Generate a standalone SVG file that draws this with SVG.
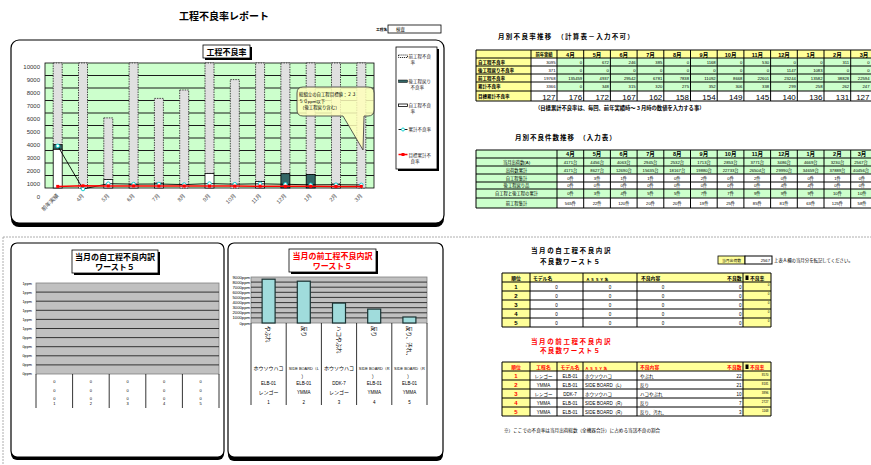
<svg xmlns="http://www.w3.org/2000/svg" width="871" height="465" viewBox="0 0 871 465">
<style>
text{font-family:"Liberation Sans","Noto Sans CJK JP",sans-serif;fill:#000}
.b{font-weight:bold}
.grn{fill:#ccffcc}
.yel{fill:#ffff99}
.gl{stroke:#000;stroke-width:1;fill:none}
.e{text-anchor:end}
.m{text-anchor:middle}
.v{font-size:4.2px}
.gbar{fill:#e0e0e0;stroke:#222;stroke-width:0.8;stroke-dasharray:1.5 1}
.wbar{fill:#fff;stroke:#000;stroke-width:0.8}
.tbar{fill:#336666;stroke:#000;stroke-width:0.8}
.cbar{fill:#a0dcdc;stroke:#1a3333;stroke-width:1.2}
.ax{font-size:6px;fill:#333}
.xl{font-size:5.5px;fill:#444;text-anchor:end}
.lg{font-size:4.5px;fill:#222}
.r{fill:#f00}
.big{font-size:8px}
</style>
<rect width="871" height="465" fill="#fff"/>

<g id="header">
<text x="224" y="20" class="b m" font-size="10">工程不良率レポート</text>
<text x="376" y="30.5" class="b" font-size="3.8">工程名</text>
<rect x="388" y="25" width="53" height="8" fill="#fff" stroke="#000" stroke-width="0.8"/>
<text x="396" y="31" font-size="4.5">検査</text>
</g>

<g id="separators" fill="none" stroke="#999" stroke-width="0.8" stroke-dasharray="2 1">
<path d="M3 237H871M3 237V465"/>
</g>

<g id="chart-main">
<rect x="11" y="44" width="433" height="183" rx="8" fill="#000"/>
<rect x="11" y="40" width="433" height="183" rx="8" fill="#fff" stroke="#000" stroke-width="1.2"/>
<rect x="205" y="47" width="47" height="13" fill="#000"/>
<rect x="203" y="45" width="47" height="13" fill="#fff" stroke="#000" stroke-width="0.8"/>
<text x="226.5" y="55.3" class="b m" font-size="8">工程不良率</text>
<rect x="45" y="63" width="329" height="125" class="grn" stroke="#000" stroke-width="0.8"/>
<path d="M45 75.5H374M45 88H374M45 100.5H374M45 113H374M45 125.5H374M45 138H374M45 150.5H374M45 163H374M45 175.5H374" stroke="#1a1a1a" stroke-width="1"/>
<g class="ax e">
<text x="40" y="69" class="ax e">10000</text>
<text x="40" y="82" class="ax e">9000</text>
<text x="40" y="95" class="ax e">8000</text>
<text x="40" y="108" class="ax e">7000</text>
<text x="40" y="121" class="ax e">6000</text>
<text x="40" y="134" class="ax e">5000</text>
<text x="40" y="147" class="ax e">4000</text>
<text x="40" y="160" class="ax e">3000</text>
<text x="40" y="173" class="ax e">2000</text>
<text x="40" y="186" class="ax e">1000</text>
<text x="40" y="199" class="ax e">0</text>
</g>
<g id="bars">
<rect x="53.2" y="63" width="9" height="81.7" class="gbar"/><rect x="53.2" y="144.7" width="9" height="4.6" class="tbar"/><rect x="53.2" y="149.3" width="9" height="38.7" class="wbar"/>
<rect x="78.5" y="63" width="9" height="125" class="gbar"/>
<rect x="103.8" y="117.9" width="9" height="61.7" class="gbar"/><rect x="103.8" y="179.6" width="9" height="8.4" class="wbar"/>
<rect x="129.1" y="63" width="9" height="121.9" class="gbar"/><rect x="129.1" y="184.9" width="9" height="3.1" class="wbar"/>
<rect x="154.4" y="98.4" width="9" height="84.8" class="gbar"/><rect x="154.4" y="183.2" width="9" height="4.8" class="wbar"/>
<rect x="179.7" y="90" width="9" height="98" class="gbar"/>
<rect x="205" y="63" width="9" height="110.4" class="gbar"/><rect x="205" y="173.4" width="9" height="14.6" class="wbar"/>
<rect x="230.3" y="79.6" width="9" height="108.4" class="gbar"/>
<rect x="255.6" y="63" width="9" height="118.4" class="gbar"/><rect x="255.6" y="181.4" width="9" height="6.6" class="wbar"/>
<rect x="280.9" y="63" width="9" height="110.7" class="gbar"/><rect x="280.9" y="173.7" width="9" height="14.3" class="tbar"/>
<rect x="306.2" y="63" width="9" height="111.5" class="gbar"/><rect x="306.2" y="174.5" width="9" height="13.5" class="tbar"/>
<rect x="331.5" y="63" width="9" height="121.1" class="gbar"/><rect x="331.5" y="184.1" width="9" height="3.9" class="wbar"/>
<rect x="356.8" y="63" width="9" height="125" class="gbar"/>
</g>
<g id="line-cum">
<polyline points="57.7,145.9 83,189 108.3,183.7 133.6,184.1 158.9,184 184.2,184.6 209.5,183.6 234.8,184.2 260.1,183.8 285.4,184.3 310.7,184.8 336,184.7 361.3,184.9" fill="none" stroke="#000" stroke-width="0.9"/>
<g fill="#fff" stroke="#00cccc" stroke-width="0.9">
<circle cx="57.7" cy="145.9" r="1.8"/><circle cx="83" cy="189" r="1.8"/><circle cx="108.3" cy="183.7" r="1.8"/><circle cx="133.6" cy="184.1" r="1.8"/><circle cx="158.9" cy="184" r="1.8"/><circle cx="184.2" cy="184.6" r="1.8"/><circle cx="209.5" cy="183.6" r="1.8"/><circle cx="234.8" cy="184.2" r="1.8"/><circle cx="260.1" cy="183.8" r="1.8"/><circle cx="285.4" cy="184.3" r="1.8"/><circle cx="310.7" cy="184.8" r="1.8"/><circle cx="336" cy="184.7" r="1.8"/><circle cx="361.3" cy="184.9" r="1.8"/>
</g>
</g>
<g id="line-target">
<polyline points="57.7,186.4 83,185.8 108.3,185.9 133.6,185.9 158.9,186 184.2,186 209.5,186.1 234.8,186.1 260.1,186.2 285.4,186.3 310.7,186.3 336,186.4 361.3,186.4" fill="none" stroke="#f00" stroke-width="1.5"/>
<g fill="#f00">
<rect x="56.2" y="184.9" width="3" height="3"/><rect x="81.5" y="184.3" width="3" height="3"/><rect x="106.8" y="184.4" width="3" height="3"/><rect x="132.1" y="184.4" width="3" height="3"/><rect x="157.4" y="184.5" width="3" height="3"/><rect x="182.7" y="184.5" width="3" height="3"/><rect x="208" y="184.6" width="3" height="3"/><rect x="233.3" y="184.6" width="3" height="3"/><rect x="258.6" y="184.7" width="3" height="3"/><rect x="283.9" y="184.8" width="3" height="3"/><rect x="309.2" y="184.8" width="3" height="3"/><rect x="334.5" y="184.9" width="3" height="3"/><rect x="359.8" y="184.9" width="3" height="3"/>
</g>
</g>
<g id="x-labels">
<text transform="translate(59.2,196) rotate(-45)" class="xl">前年実績</text>
<text transform="translate(84.5,196) rotate(-45)" class="xl">4月</text>
<text transform="translate(109.8,196) rotate(-45)" class="xl">5月</text>
<text transform="translate(135.1,196) rotate(-45)" class="xl">6月</text>
<text transform="translate(160.4,196) rotate(-45)" class="xl">7月</text>
<text transform="translate(185.7,196) rotate(-45)" class="xl">8月</text>
<text transform="translate(211,196) rotate(-45)" class="xl">9月</text>
<text transform="translate(236.3,196) rotate(-45)" class="xl">10月</text>
<text transform="translate(261.6,196) rotate(-45)" class="xl">11月</text>
<text transform="translate(286.9,196) rotate(-45)" class="xl">12月</text>
<text transform="translate(312.2,196) rotate(-45)" class="xl">1月</text>
<text transform="translate(337.5,196) rotate(-45)" class="xl">2月</text>
<text transform="translate(362.8,196) rotate(-45)" class="xl">3月</text>
</g>
<g id="callout">
<path d="M303 87H368Q374 87 374 93V110Q374 116 368 116H364L363 150L343 116H303Q297 116 297 110V93Q297 87 303 87Z" fill="#ffffbb" fill-opacity="0.85" stroke="#333" stroke-width="0.8"/>
<text x="299" y="96" font-size="4.4" fill="#333">総組立の自工程目標値：２３</text>
<text x="299" y="102.5" font-size="4.4" fill="#333">５０ppm以下</text>
<text x="300" y="109" font-size="4.4" fill="#333">（後工程戻り含む）</text>
</g>
<g id="legend">
<rect x="398" y="49" width="41" height="122" fill="#000"/>
<rect x="396" y="47" width="41" height="122" fill="#fff" stroke="#000" stroke-width="0.8"/>
<rect x="398.5" y="55" width="9" height="2.5" fill="#fff" stroke="#000" stroke-width="0.8" stroke-dasharray="1.2 0.8"/>
<text x="408.5" y="58" class="lg">前工程不良</text><text x="410.5" y="63.5" class="lg">率</text>
<rect x="398.5" y="80" width="9" height="2.5" fill="#336666" stroke="#000" stroke-width="0.5"/>
<text x="408.5" y="83" class="lg">後工程戻り</text><text x="410.5" y="89" class="lg">不良率</text>
<rect x="398.5" y="104" width="9" height="2.5" fill="#fff" stroke="#000" stroke-width="0.8"/>
<text x="408.5" y="107" class="lg">自工程不良</text><text x="410.5" y="113" class="lg">率</text>
<line x1="398.5" y1="129.5" x2="407.5" y2="129.5" stroke="#000" stroke-width="0.9"/>
<circle cx="403" cy="129.5" r="1.5" fill="#fff" stroke="#00cccc" stroke-width="0.9"/>
<text x="408.5" y="131" class="lg">累計不良率</text>
<line x1="398.5" y1="154.5" x2="407.5" y2="154.5" stroke="#f00" stroke-width="1.5"/>
<rect x="401.5" y="153" width="3" height="3" fill="#f00"/>
<text x="408.5" y="156.5" class="lg">目標累計不</text><text x="410.5" y="162.5" class="lg">良率</text>
</g>
</g>

<g id="table-rate">
<text x="498" y="39" class="b" font-size="6.5" letter-spacing="1.3">月別不良率推移　（計算表－入力不可）</text>
<rect x="476" y="50" width="55" height="51" class="yel"/>
<rect x="531" y="50" width="346" height="8" class="yel"/>
<rect x="531" y="58" width="26" height="43" fill="#fff"/>
<rect x="557" y="58" width="320" height="33" class="grn"/>
<rect x="557" y="91" width="320" height="10" fill="#fff"/>
<path class="gl" d="M476 50H877M476 58H877M476 66H877M476 74H877M476 82H877M476 91H877M476 101H877M476 50V101M531 50V101M557 50V101M583.7 50V101M610.4 50V101M637.1 50V101M663.8 50V101M690.5 50V101M717.2 50V101M743.9 50V101M770.6 50V101M797.3 50V101M824 50V101M850.7 50V101"/>
<g class="b" font-size="5.5">
<text x="544" y="56" class="b m" font-size="4.3">前年実績</text>
<text x="570.4" y="56.5" class="m">4月</text><text x="597.1" y="56.5" class="m">5月</text><text x="623.8" y="56.5" class="m">6月</text><text x="650.5" y="56.5" class="m">7月</text><text x="677.2" y="56.5" class="m">8月</text><text x="703.9" y="56.5" class="m">9月</text><text x="730.6" y="56.5" class="m">10月</text><text x="757.3" y="56.5" class="m">11月</text><text x="784" y="56.5" class="m">12月</text><text x="810.7" y="56.5" class="m">1月</text><text x="837.4" y="56.5" class="m">2月</text><text x="864.1" y="56.5" class="m">3月</text>
</g>
<g class="b" font-size="4.5">
<text x="478" y="63.8">自工程不良率</text>
<text x="478" y="71.8">後工程戻り不良率</text>
<text x="478" y="79.8">前工程不良率</text>
<text x="478" y="88.3">累計不良率</text>
<text x="478" y="98.3">目標累計不良率</text>
</g>
<g class="v e">
<text x="555.5" y="63.8" class="v e">3095</text><text x="555.5" y="71.8" class="v e">371</text><text x="555.5" y="79.8" class="v e">19768</text><text x="555.5" y="88.3" class="v e">3366</text>
<text x="582.2" y="63.8" class="v e">0</text><text x="608.9" y="63.8" class="v e">672</text><text x="635.6" y="63.8" class="v e">246</text><text x="662.3" y="63.8" class="v e">385</text><text x="689" y="63.8" class="v e">0</text><text x="715.7" y="63.8" class="v e">1168</text><text x="742.4" y="63.8" class="v e">0</text><text x="769.1" y="63.8" class="v e">530</text><text x="795.8" y="63.8" class="v e">0</text><text x="822.5" y="63.8" class="v e">0</text><text x="849.2" y="63.8" class="v e">311</text><text x="869.5" y="63.8" class="v e">0</text>
<text x="582.2" y="71.8" class="v e">0</text><text x="608.9" y="71.8" class="v e">0</text><text x="635.6" y="71.8" class="v e">0</text><text x="662.3" y="71.8" class="v e">0</text><text x="689" y="71.8" class="v e">0</text><text x="715.7" y="71.8" class="v e">0</text><text x="742.4" y="71.8" class="v e">0</text><text x="769.1" y="71.8" class="v e">0</text><text x="795.8" y="71.8" class="v e">1147</text><text x="822.5" y="71.8" class="v e">1083</text><text x="849.2" y="71.8" class="v e">0</text><text x="869.5" y="71.8" class="v e">0</text>
<text x="582.2" y="79.8" class="v e">135459</text><text x="608.9" y="79.8" class="v e">4937</text><text x="635.6" y="79.8" class="v e">29542</text><text x="662.3" y="79.8" class="v e">6781</text><text x="689" y="79.8" class="v e">7838</text><text x="715.7" y="79.8" class="v e">11092</text><text x="742.4" y="79.8" class="v e">8668</text><text x="769.1" y="79.8" class="v e">22601</text><text x="795.8" y="79.8" class="v e">23244</text><text x="822.5" y="79.8" class="v e">13582</text><text x="849.2" y="79.8" class="v e">38828</text><text x="869.5" y="79.8" class="v e">22594</text>
<text x="582.2" y="88.3" class="v e">0</text><text x="608.9" y="88.3" class="v e">348</text><text x="635.6" y="88.3" class="v e">315</text><text x="662.3" y="88.3" class="v e">320</text><text x="689" y="88.3" class="v e">275</text><text x="715.7" y="88.3" class="v e">352</text><text x="742.4" y="88.3" class="v e">306</text><text x="769.1" y="88.3" class="v e">338</text><text x="795.8" y="88.3" class="v e">299</text><text x="822.5" y="88.3" class="v e">258</text><text x="849.2" y="88.3" class="v e">262</text><text x="869.5" y="88.3" class="v e">247</text>
</g>
<g class="big e">
<text x="555.5" y="99.5" class="big e">127</text>
<text x="582.2" y="99.5" class="big e">176</text><text x="608.9" y="99.5" class="big e">172</text><text x="635.6" y="99.5" class="big e">167</text><text x="662.3" y="99.5" class="big e">162</text><text x="689" y="99.5" class="big e">158</text><text x="715.7" y="99.5" class="big e">154</text><text x="742.4" y="99.5" class="big e">149</text><text x="769.1" y="99.5" class="big e">145</text><text x="795.8" y="99.5" class="big e">140</text><text x="822.5" y="99.5" class="big e">136</text><text x="849.2" y="99.5" class="big e">131</text><text x="869.5" y="99.5" class="big e">127</text>
</g>
<text x="535" y="110" class="b" font-size="5.3">（目標累計不良率は、毎回、前年実績時～３月時の数値を入力する事）</text>
</g>

<g id="table-count">
<text x="515" y="140" class="b" font-size="6.5" letter-spacing="1">月別不良件数推移　（入力表）</text>
<rect x="476" y="150" width="401" height="24" class="grn"/>
<rect x="557" y="174" width="320" height="15" fill="#fff"/>
<rect x="476" y="174" width="81" height="34" class="grn"/>
<rect x="557" y="189" width="320" height="9" class="grn"/>
<rect x="557" y="198" width="320" height="10" fill="#fff"/>
<path class="gl" d="M476 150H877M476 158H877M476 166H877M476 174H877M476 182H877M476 189H877M476 198H877M476 208H877M476 150V208M557 150V208M583.7 150V208M610.4 150V208M637.1 150V208M663.8 150V208M690.5 150V208M717.2 150V208M743.9 150V208M770.6 150V208M797.3 150V208M824 150V208M850.7 150V208"/>
<g class="b" font-size="5.5">
<text x="570.4" y="156.3" class="m">4月</text><text x="597.1" y="156.3" class="m">5月</text><text x="623.8" y="156.3" class="m">6月</text><text x="650.5" y="156.3" class="m">7月</text><text x="677.2" y="156.3" class="m">8月</text><text x="703.9" y="156.3" class="m">9月</text><text x="730.6" y="156.3" class="m">10月</text><text x="757.3" y="156.3" class="m">11月</text><text x="784" y="156.3" class="m">12月</text><text x="810.7" y="156.3" class="m">1月</text><text x="837.4" y="156.3" class="m">2月</text><text x="862" y="156.3" class="m">3月</text>
</g>
<g font-size="4.3">
<text x="516.5" y="163.7" class="m">当月出荷数(A)</text>
<text x="516.5" y="171.7" class="m">出荷数累計</text>
<text x="516.5" y="179.7" class="m">自工程集計</text>
<text x="516.5" y="187.2" class="m">後工程戻り品</text>
<text x="516.5" y="195.2" class="m">自工程と後工程の累計</text>
<text x="516.5" y="204.5" class="m">前工程集計</text>
</g>
<g font-size="4.2">
<text x="570.4" y="163.7" class="m">4171台</text><text x="597.1" y="163.7" class="m">4456台</text><text x="623.8" y="163.7" class="m">4063台</text><text x="650.5" y="163.7" class="m">2945台</text><text x="677.2" y="163.7" class="m">2532台</text><text x="703.9" y="163.7" class="m">1713台</text><text x="730.6" y="163.7" class="m">2853台</text><text x="757.3" y="163.7" class="m">3771台</text><text x="784" y="163.7" class="m">3486台</text><text x="810.7" y="163.7" class="m">4669台</text><text x="837.4" y="163.7" class="m">3230台</text><text x="861" y="163.7" class="m">2567台</text>
<text x="570.4" y="171.7" class="m">4171台</text><text x="597.1" y="171.7" class="m">8627台</text><text x="623.8" y="171.7" class="m">12690台</text><text x="650.5" y="171.7" class="m">15635台</text><text x="677.2" y="171.7" class="m">18167台</text><text x="703.9" y="171.7" class="m">19880台</text><text x="730.6" y="171.7" class="m">22733台</text><text x="757.3" y="171.7" class="m">26504台</text><text x="784" y="171.7" class="m">29990台</text><text x="810.7" y="171.7" class="m">34659台</text><text x="837.4" y="171.7" class="m">37889台</text><text x="861" y="171.7" class="m">40456台</text>
<text x="570.4" y="179.7" class="m">0件</text><text x="597.1" y="179.7" class="m">3件</text><text x="623.8" y="179.7" class="m">1件</text><text x="650.5" y="179.7" class="m">1件</text><text x="677.2" y="179.7" class="m">0件</text><text x="703.9" y="179.7" class="m">2件</text><text x="730.6" y="179.7" class="m">0件</text><text x="757.3" y="179.7" class="m">2件</text><text x="784" y="179.7" class="m">0件</text><text x="810.7" y="179.7" class="m">0件</text><text x="837.4" y="179.7" class="m">1件</text><text x="862" y="179.7" class="m">0件</text>
<text x="570.4" y="187.2" class="m">0件</text><text x="597.1" y="187.2" class="m">0件</text><text x="623.8" y="187.2" class="m">0件</text><text x="650.5" y="187.2" class="m">0件</text><text x="677.2" y="187.2" class="m">0件</text><text x="703.9" y="187.2" class="m">0件</text><text x="730.6" y="187.2" class="m">0件</text><text x="757.3" y="187.2" class="m">0件</text><text x="784" y="187.2" class="m">4件</text><text x="810.7" y="187.2" class="m">4件</text><text x="837.4" y="187.2" class="m">0件</text><text x="862" y="187.2" class="m">0件</text>
<text x="570.4" y="195.2" class="m">0件</text><text x="597.1" y="195.2" class="m">3件</text><text x="623.8" y="195.2" class="m">4件</text><text x="650.5" y="195.2" class="m">5件</text><text x="677.2" y="195.2" class="m">5件</text><text x="703.9" y="195.2" class="m">7件</text><text x="730.6" y="195.2" class="m">7件</text><text x="757.3" y="195.2" class="m">9件</text><text x="784" y="195.2" class="m">9件</text><text x="810.7" y="195.2" class="m">9件</text><text x="837.4" y="195.2" class="m">10件</text><text x="862" y="195.2" class="m">10件</text>
<text x="570.4" y="204.5" class="m">565件</text><text x="597.1" y="204.5" class="m">22件</text><text x="623.8" y="204.5" class="m">120件</text><text x="650.5" y="204.5" class="m">20件</text><text x="677.2" y="204.5" class="m">20件</text><text x="703.9" y="204.5" class="m">19件</text><text x="730.6" y="204.5" class="m">25件</text><text x="757.3" y="204.5" class="m">85件</text><text x="784" y="204.5" class="m">81件</text><text x="810.7" y="204.5" class="m">63件</text><text x="837.4" y="204.5" class="m">125件</text><text x="862" y="204.5" class="m">58件</text>
</g>
</g>

<g id="chart-self">
<rect x="11" y="246" width="213" height="214" rx="6" fill="#000"/>
<rect x="11" y="243" width="213" height="214" rx="6" fill="#fff" stroke="#000" stroke-width="1.2"/>
<rect x="74" y="252" width="86" height="23" fill="#000"/>
<rect x="72" y="250" width="86" height="23" fill="#fff" stroke="#000" stroke-width="0.8"/>
<text x="115" y="259.5" class="b m" font-size="8">当月の自工程不良内訳</text>
<text x="115" y="270" class="b m" font-size="8">ワースト５</text>
<rect x="36" y="283" width="183" height="91" fill="#c0c0c0" stroke="#808080" stroke-width="0.8"/>
<path d="M36 292.1H219M36 301.2H219M36 310.3H219M36 319.4H219M36 328.5H219M36 337.6H219M36 346.7H219M36 355.8H219M36 364.9H219" stroke="#333" stroke-width="1"/>
<g font-size="3.8" fill="#555">
<text x="32" y="284.5" class="e" fill="#555">1ppm</text><text x="32" y="293.5" class="e" fill="#555">1ppm</text><text x="32" y="302.5" class="e" fill="#555">1ppm</text><text x="32" y="311.5" class="e" fill="#555">1ppm</text><text x="32" y="320.5" class="e" fill="#555">1ppm</text><text x="32" y="329.5" class="e" fill="#555">1ppm</text><text x="32" y="338.5" class="e" fill="#555">0ppm</text><text x="32" y="347.5" class="e" fill="#555">0ppm</text><text x="32" y="356.5" class="e" fill="#555">0ppm</text><text x="32" y="365.5" class="e" fill="#555">0ppm</text><text x="32" y="374.5" class="e" fill="#555">0ppm</text>
</g>
<path d="M36 374V408M72.6 374V408M109.2 374V408M145.8 374V408M182.4 374V408M219 374V408" stroke="#000" stroke-width="0.8"/>
<g font-size="4" fill="#333">
<text x="54.3" y="382.5" class="m">0</text><text x="54.3" y="391.5" class="m">0</text><text x="54.3" y="400" class="m">0</text><text x="54.3" y="405" class="m">1</text>
<text x="90.9" y="382.5" class="m">0</text><text x="90.9" y="391.5" class="m">0</text><text x="90.9" y="400" class="m">0</text><text x="90.9" y="405" class="m">2</text>
<text x="127.5" y="382.5" class="m">0</text><text x="127.5" y="391.5" class="m">0</text><text x="127.5" y="400" class="m">0</text><text x="127.5" y="405" class="m">3</text>
<text x="164.1" y="382.5" class="m">0</text><text x="164.1" y="391.5" class="m">0</text><text x="164.1" y="400" class="m">0</text><text x="164.1" y="405" class="m">4</text>
<text x="200.7" y="382.5" class="m">0</text><text x="200.7" y="391.5" class="m">0</text><text x="200.7" y="400" class="m">0</text><text x="200.7" y="405" class="m">5</text>
</g>
</g>

<g id="chart-prev">
<rect x="228" y="247" width="215" height="214" rx="6" fill="#000"/>
<rect x="228" y="243" width="215" height="214" rx="6" fill="#fff" stroke="#000" stroke-width="1.2"/>
<rect x="291" y="251" width="87" height="23" fill="#000"/>
<rect x="289" y="249" width="87" height="23" fill="#fff" stroke="#000" stroke-width="0.8"/>
<text x="332.5" y="258.5" class="b m r" font-size="8">当月の前工程不良内訳</text>
<text x="332.5" y="269" class="b m r" font-size="8">ワースト５</text>
<rect x="251" y="277" width="176" height="46" fill="#c0c0c0" stroke="#808080" stroke-width="0.8"/>
<path d="M251 282.1H427M251 287.2H427M251 292.3H427M251 297.4H427M251 302.6H427M251 307.7H427M251 312.8H427M251 317.9H427" stroke="#333" stroke-width="1"/>
<g font-size="4.2">
<text x="250" y="278.5" class="e">9000ppm</text><text x="250" y="283.6" class="e">8000ppm</text><text x="250" y="288.7" class="e">7000ppm</text><text x="250" y="293.8" class="e">6000ppm</text><text x="250" y="298.9" class="e">5000ppm</text><text x="250" y="304.1" class="e">4000ppm</text><text x="250" y="309.2" class="e">3000ppm</text><text x="250" y="314.3" class="e">2000ppm</text><text x="250" y="319.4" class="e">1000ppm</text><text x="250" y="324.5" class="e">0ppm</text>
</g>
<rect x="262.1" y="279.2" width="13" height="43.8" class="cbar"/>
<rect x="297.3" y="281.2" width="13" height="41.8" class="cbar"/>
<rect x="332.5" y="303.1" width="13" height="19.9" class="cbar"/>
<rect x="367.7" y="309.1" width="13" height="13.9" class="cbar"/>
<rect x="402.9" y="317" width="13" height="6" class="cbar"/>
<path d="M251 323V405M286.2 323V405M321.4 323V405M356.6 323V405M391.8 323V405M427 323V405" stroke="#000" stroke-width="0.8"/>
<g font-size="5.5" fill="#333">
<text transform="translate(266.3,326) rotate(90)" fill="#333">やぶれ</text>
<text transform="translate(301.5,326) rotate(90)" fill="#333">反り</text>
<text transform="translate(336.7,326) rotate(90)" fill="#333">ハコやぶれ</text>
<text transform="translate(371.9,326) rotate(90)" fill="#333">反り</text>
<text transform="translate(407.1,326) rotate(90)" fill="#333">反り、汚れ、</text>
</g>
<g font-size="5" fill="#333">
<text x="268.6" y="370" class="m" font-size="5" fill="#333">ホウソウハコ</text>
<text x="268.6" y="384.5" class="m" font-size="4.5" fill="#333">ELB-01</text>
<text x="268.6" y="394" class="m" fill="#333">レンゴー</text>
<text x="268.6" y="404" class="m" font-size="4.5" fill="#333">1</text>
<text x="303.8" y="370" class="m" font-size="3.9" fill="#333">SIDE BOARD（L</text>
<text x="303.8" y="377.5" class="m" fill="#333">）</text>
<text x="303.8" y="384.5" class="m" font-size="4.5" fill="#333">ELB-01</text>
<text x="303.8" y="393.5" class="m" font-size="4.5" fill="#333">YMMA</text>
<text x="303.8" y="404" class="m" font-size="4.5" fill="#333">2</text>
<text x="339" y="370" class="m" font-size="5" fill="#333">ホウソウハコ</text>
<text x="339" y="384.5" class="m" font-size="4.5" fill="#333">DDK-7</text>
<text x="339" y="394" class="m" fill="#333">レンゴー</text>
<text x="339" y="404" class="m" font-size="4.5" fill="#333">3</text>
<text x="374.2" y="370" class="m" font-size="3.9" fill="#333">SIDE BOARD（R</text>
<text x="374.2" y="377.5" class="m" fill="#333">）</text>
<text x="374.2" y="384.5" class="m" font-size="4.5" fill="#333">ELB-01</text>
<text x="374.2" y="393.5" class="m" font-size="4.5" fill="#333">YMMA</text>
<text x="374.2" y="404" class="m" font-size="4.5" fill="#333">4</text>
<text x="409.4" y="370" class="m" font-size="3.9" fill="#333">SIDE BOARD（R</text>
<text x="409.4" y="377.5" class="m" fill="#333">）</text>
<text x="409.4" y="384.5" class="m" font-size="4.5" fill="#333">ELB-01</text>
<text x="409.4" y="393.5" class="m" font-size="4.5" fill="#333">YMMA</text>
<text x="409.4" y="404" class="m" font-size="4.5" fill="#333">5</text>
</g>
</g>

<g id="table-self">
<text x="531" y="253" class="b" font-size="6.5" letter-spacing="1.6">当月の自工程不良内訳</text>
<text x="540" y="263.5" class="b" font-size="6.5" letter-spacing="1.2">不良数ワースト５</text>
<rect x="718" y="256" width="27" height="8" class="yel" stroke="#000" stroke-width="0.8"/>
<text x="731.5" y="261.8" class="m" font-size="3.8">当月出荷数</text>
<rect x="745" y="256" width="27" height="8" fill="#fff" stroke="#000" stroke-width="1"/>
<text x="770" y="262" class="e" font-size="4.2">2567</text>
<text x="774" y="262" font-size="4.4" fill="#222">上表Ａ欄の当月分を転記してください。</text>
<rect x="502" y="273" width="269" height="9" class="yel"/>
<rect x="502" y="282" width="28" height="45" class="yel"/>
<rect x="743" y="282" width="28" height="45" class="yel"/>
<path class="gl" stroke-width="1.2" d="M502 273H771M502 282H771M502 291H771M502 300H771M502 309H771M502 318H771M502 327H771M502 273V327M530 273V327M583 273V327M637 273V327M743 273V327M771 273V327"/>
<rect x="745.5" y="275.5" width="3" height="4.5" fill="#000"/>
<g class="b" font-size="4.8">
<text x="516" y="280" class="m">順位</text>
<text x="533" y="280">モデル名</text>
<text x="586" y="280.5" font-size="3.8" letter-spacing="0.8">ＡＳＳＹ名</text>
<text x="641" y="280">不良内容</text>
<text x="741.5" y="280" class="e">不良数</text>
<text x="750" y="280">不良率</text>
</g>
<g class="b" font-size="6">
<text x="516" y="289" class="m">1</text><text x="516" y="298" class="m">2</text><text x="516" y="307" class="m">3</text><text x="516" y="316" class="m">4</text><text x="516" y="325" class="m">5</text>
</g>
<g font-size="4.5">
<text x="556.5" y="288.5" class="m">0</text><text x="610" y="288.5" class="m">0</text><text x="663" y="288.5" class="m">0</text><text x="741.5" y="288.5" class="e">0</text>
<text x="556.5" y="297.5" class="m">0</text><text x="610" y="297.5" class="m">0</text><text x="663" y="297.5" class="m">0</text><text x="741.5" y="297.5" class="e">0</text>
<text x="556.5" y="306.5" class="m">0</text><text x="610" y="306.5" class="m">0</text><text x="663" y="306.5" class="m">0</text><text x="741.5" y="306.5" class="e">0</text>
<text x="556.5" y="315.5" class="m">0</text><text x="610" y="315.5" class="m">0</text><text x="663" y="315.5" class="m">0</text><text x="741.5" y="315.5" class="e">0</text>
<text x="556.5" y="324.5" class="m">0</text><text x="610" y="324.5" class="m">0</text><text x="663" y="324.5" class="m">0</text><text x="741.5" y="324.5" class="e">0</text>
</g>
<g font-size="3">
<text x="769.5" y="286" class="e">0</text><text x="769.5" y="295" class="e">0</text><text x="769.5" y="304" class="e">0</text><text x="769.5" y="313" class="e">0</text><text x="769.5" y="322" class="e">0</text>
</g>
</g>

<g id="table-prev">
<text x="531" y="344" class="b r" font-size="6.5" letter-spacing="1.6">当月の前工程不良内訳</text>
<text x="540" y="353" class="b r" font-size="6.5" letter-spacing="1.2">不良数ワースト５</text>
<rect x="502" y="362" width="269" height="9" class="yel"/>
<rect x="502" y="371" width="28" height="45" class="yel"/>
<rect x="743" y="371" width="28" height="45" class="yel"/>
<path class="gl" stroke-width="1.2" d="M502 362H771M502 371H771M502 380H771M502 389H771M502 398H771M502 407H771M502 416H771M502 362V416M530 362V416M557 362V416M583 362V416M637 362V416M743 362V416M771 362V416"/>
<rect x="745.5" y="364.5" width="3" height="4.5" fill="#000"/>
<g class="b r" font-size="4.8">
<text x="516" y="369" class="m r">順位</text>
<text x="543.5" y="369" class="m r">工程名</text>
<text x="570" y="369" class="m r">モデル名</text>
<text x="585" y="369.5" class="r" font-size="3.8" letter-spacing="0.8">ＡＳＳＹ名</text>
<text x="640" y="369" class="r">不良内容</text>
<text x="741.5" y="369" class="e r">不良数</text>
<text x="750" y="369" class="r">不良率</text>
</g>
<g class="b" font-size="6">
<text x="516" y="378" class="m r">1</text><text x="516" y="387" class="m r">2</text><text x="516" y="396" class="m r">3</text><text x="516" y="405" class="m r">4</text><text x="516" y="414" class="m r">5</text>
</g>
<g font-size="4.5" fill="#222">
<text x="543.5" y="377.5" class="m">レンゴー</text><text x="570" y="377.5" class="m">ELB-01</text><text x="585" y="377.5">ホウソウハコ</text><text x="640" y="377.5">やぶれ</text><text x="741.5" y="377.5" class="e">22</text>
<text x="543.5" y="386.5" class="m">YMMA</text><text x="570" y="386.5" class="m">ELB-01</text><text x="585" y="386.5">SIDE BOARD（L）</text><text x="640" y="386.5">反り</text><text x="741.5" y="386.5" class="e">21</text>
<text x="543.5" y="395.5" class="m">レンゴー</text><text x="570" y="395.5" class="m">DDK-7</text><text x="585" y="395.5">ホウソウハコ</text><text x="640" y="395.5">ハコやぶれ</text><text x="741.5" y="395.5" class="e">10</text>
<text x="543.5" y="404.5" class="m">YMMA</text><text x="570" y="404.5" class="m">ELB-01</text><text x="585" y="404.5">SIDE BOARD（R）</text><text x="640" y="404.5">反り</text><text x="741.5" y="404.5" class="e">7</text>
<text x="543.5" y="413.5" class="m">YMMA</text><text x="570" y="413.5" class="m">ELB-01</text><text x="585" y="413.5">SIDE BOARD（R）</text><text x="640" y="413.5">反り、汚れ、</text><text x="741.5" y="413.5" class="e">3</text>
</g>
<g font-size="3">
<text x="768.5" y="375.5" class="e">8570</text><text x="768.5" y="384.5" class="e">8181</text><text x="768.5" y="393.5" class="e">3896</text><text x="768.5" y="402.5" class="e">2727</text><text x="768.5" y="411.5" class="e">1168</text>
</g>
<text x="504" y="432" font-size="4.6" fill="#333">※）ここでの不良率は当月出荷総数（全機器合計）に占める当該不良の割合</text>
</g>
</svg>
